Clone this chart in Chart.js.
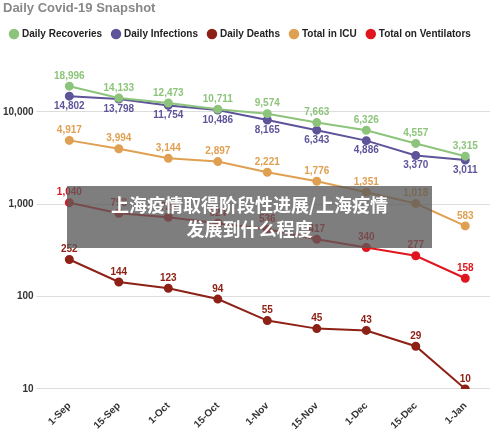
<!DOCTYPE html>
<html><head><meta charset="utf-8">
<script src="https://cdn.jsdelivr.net/npm/chart.js@4/dist/chart.umd.min.js"></script>
<style>
body{margin:0;background:#fff;font-family:"Liberation Sans",Arial,sans-serif;}
#wrap{position:relative;width:500px;height:435px;}
#title{position:absolute;left:3px;top:0px;font-size:13px;font-weight:bold;color:#888;}
#banner{position:absolute;left:67px;top:186px;width:365px;height:62px;background:rgba(90,90,90,0.78);color:#fff;font-family:"Noto Sans CJK SC";font-weight:bold;font-size:18px;line-height:24px;text-align:center;padding-top:6px;box-sizing:border-box;}
</style></head><body>
<div id="wrap">
<canvas id="c" width="500" height="435"></canvas>
<div id="title">Daily Covid-19 Snapshot</div>
<div id="banner">上海疫情取得阶段性进展/上海疫情<br>发展到什么程度</div>
</div>
<script>
const categories=["1-Sep","15-Sep","1-Oct","15-Oct","1-Nov","15-Nov","1-Dec","15-Dec","1-Jan"];
const recoveries=[18996,14133,12473,10711,9574,7663,6326,4557,3315];
const infections=[14802,13798,11754,10486,8165,6343,4886,3370,3011];
const deaths=[252,144,123,94,55,45,43,29,10];
const icu=[4917,3994,3144,2897,2221,1776,1351,1018,583];
const ventilators=[1040,798,724,624,536,417,340,277,158];
const yTicks=[10,100,1000,10000];
const labelPos={"Daily Infections":"below"};
const mk=(label,data,color)=>({label,data,borderColor:color,backgroundColor:color,pointRadius:3.5,pointHoverRadius:3.5,borderWidth:2,tension:0});
const labelsPlugin={id:"dl",afterDatasetsDraw(ch){const ctx=ch.ctx;ctx.save();ctx.font="bold 10px 'Liberation Sans'";ctx.textAlign="center";
ch.data.datasets.forEach((ds,i)=>{const m=ch.getDatasetMeta(i);m.data.forEach((p,j)=>{ctx.fillStyle=ds.borderColor;
const below=labelPos[ds.label]==="below";ctx.textBaseline=below?"top":"bottom";ctx.fillText(ds.data[j].toLocaleString("en-US"),p.x,below?p.y+5:p.y-5);});});ctx.restore();}};
new Chart(document.getElementById("c"),{type:"line",
data:{labels:categories,datasets:[mk("Daily Recoveries",recoveries,"#8dc47b"),mk("Daily Infections",infections,"#5d5499"),mk("Daily Deaths",deaths,"#8e2116"),mk("Total in ICU",icu,"#e0a052"),mk("Total on Ventilators",ventilators,"#e0161f")]},
options:{responsive:false,animation:false,layout:{padding:{top:18,left:0,right:10,bottom:0}},
plugins:{legend:{align:"start",labels:{usePointStyle:true,pointStyle:"circle",boxWidth:6,boxHeight:6,padding:11,color:"#222",font:{size:10,weight:"bold"}}},tooltip:{enabled:false}},
scales:{x:{offset:true,grid:{display:false},border:{display:false},ticks:{maxRotation:45,minRotation:45,color:"#333",font:{size:10,weight:"bold"}}},
y:{type:"logarithmic",min:10,max:48000,border:{display:false},grid:{color:"#ddd"},afterBuildTicks(a){a.ticks=yTicks.map(v=>({value:v}));},
ticks:{color:"#333",font:{size:10,weight:"bold"},callback:v=>Number(v).toLocaleString("en-US")}}}},
plugins:[labelsPlugin]});
</script></body></html>
